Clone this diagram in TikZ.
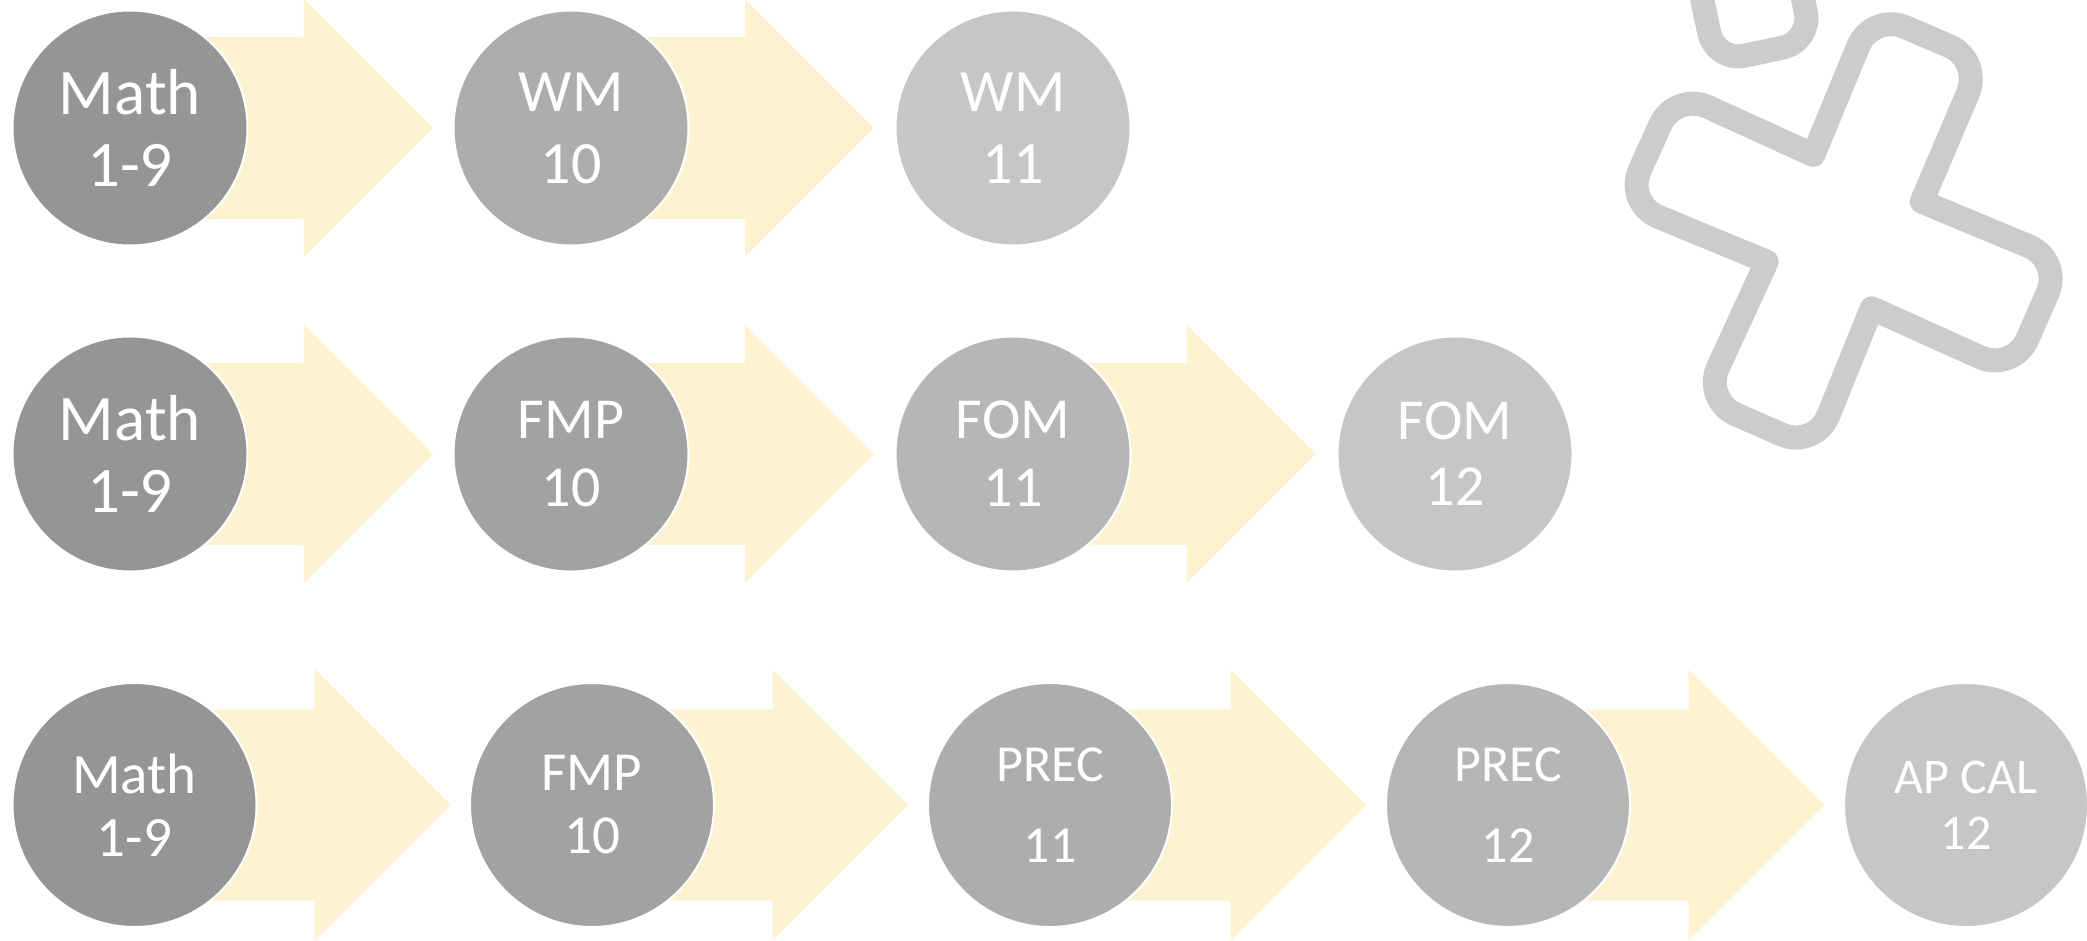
\documentclass[tikz,border=0pt]{standalone}
\usepackage{fontspec}
\setmainfont{Carlito}[Numbers=Lining]
\usetikzlibrary{shapes.arrows}
\usetikzlibrary{backgrounds}
\definecolor{arrow_yellow}{RGB}{255, 242, 209}
\definecolor{cross_grey}{RGB}{204, 204, 204}
\definecolor{grey_a}{RGB}{149, 149, 149}
\definecolor{grey_b}{RGB}{162, 162, 162}
\definecolor{grey_c}{RGB}{173, 173, 173}
\definecolor{grey_d}{RGB}{182, 182, 182}
\definecolor{grey_e}{RGB}{198, 198, 198}
\newcommand{\labelsize}[2]{\fontsize{#1}{#2}\selectfont}
\tikzset{
    course/.style={shape=circle, draw=white, line width=2pt, inner sep=0pt, text=white, align=center},
    course_big/.style={course, minimum size=235pt},
    course_large/.style={course, minimum size=244pt},
    flow/.style={shape=single arrow, fill=arrow_yellow, inner sep=0pt, anchor=tail,
        shape border rotate=0, single arrow tip angle=90, text depth=0pt},
    flow_big/.style={flow, text height=182pt, minimum width=258pt, minimum height=303pt, single arrow head extend=38pt},
    flow_large/.style={flow, text height=191pt, minimum width=271pt, minimum height=316pt, single arrow head extend=40pt},
    mark_line/.style={draw=cross_grey, line width=24pt, line join=round}
}

\begin{document}
\begin{tikzpicture}[x=1pt, y=-1pt]
    \useasboundingbox (0,0) rectangle (2087,941);

    % first row
    \node[course_big, fill=grey_a, font=\labelsize{65}{72}] (A1) at (130,128) {Math\\1-9};
    \node[course_big, fill=grey_c, font=\labelsize{60}{72}] (A2) at (571,128) {WM\\10};
    \node[course_big, fill=grey_e, font=\labelsize{60}{72}] (A3) at (1013,128) {WM\\11};

    % second row
    \node[course_big, fill=grey_a, font=\labelsize{65}{72}] (B1) at (130,454) {Math\\1-9};
    \node[course_big, fill=grey_b, font=\labelsize{58}{68}] (B2) at (571,454) {FMP\\10};
    \node[course_big, fill=grey_d, font=\labelsize{58}{68}] (B3) at (1013,454) {FOM\\11};
    \node[course_big, fill=grey_e, font=\labelsize{58}{66}] (B4) at (1455,454) {FOM\\12};

    % third row
    \node[course_large, fill=grey_a, font=\labelsize{57}{63}] (C1) at (134.5,805) {Math\\1-9};
    \node[course_large, fill=grey_b, font=\labelsize{55}{63}] (C2) at (592,805) {FMP\\10};
    \node[course_large, fill=grey_c, font=\labelsize{52}{81}] (C3) at (1050,805) {PREC\\11};
    \node[course_large, fill=grey_d, font=\labelsize{52}{81}] (C4) at (1508,805) {PREC\\12};
    \node[course_large, fill=grey_e, font=\labelsize{50}{56}] (C5) at (1966,805) {AP CAL\\12};

    \begin{scope}[on background layer]
        \node[flow_big] (A1A2) at (A1) {};
        \node[flow_big] (A2A3) at (A2) {};
        \node[flow_big] (B1B2) at (B1) {};
        \node[flow_big] (B2B3) at (B2) {};
        \node[flow_big] (B3B4) at (B3) {};
        \node[flow_large] (C1C2) at (C1) {};
        \node[flow_large] (C2C3) at (C2) {};
        \node[flow_large] (C3C4) at (C3) {};
        \node[flow_large] (C4C5) at (C4) {};
    \end{scope}

    % grey marks, top right
    \draw[mark_line, rounded corners=30pt] (1696.7,-27) -- (1715.3,62) -- (1812,41.3) -- (1798.3,-23);
    \draw[mark_line] (1813.3,155) [rounded corners=36pt] -- (1872,13) -- (1982,60) [sharp corners] -- (1921.7,201.7)
        [rounded corners=36pt] -- (2062,260) -- (2013,372) [sharp corners] -- (1871.7,308.3)
        [rounded corners=36pt] -- (1814.7,449) -- (1703,400) [sharp corners] -- (1766.7,261.7)
        [rounded corners=36pt] -- (1625,203) -- (1675,92) [sharp corners] -- cycle;
\end{tikzpicture}
\end{document}
